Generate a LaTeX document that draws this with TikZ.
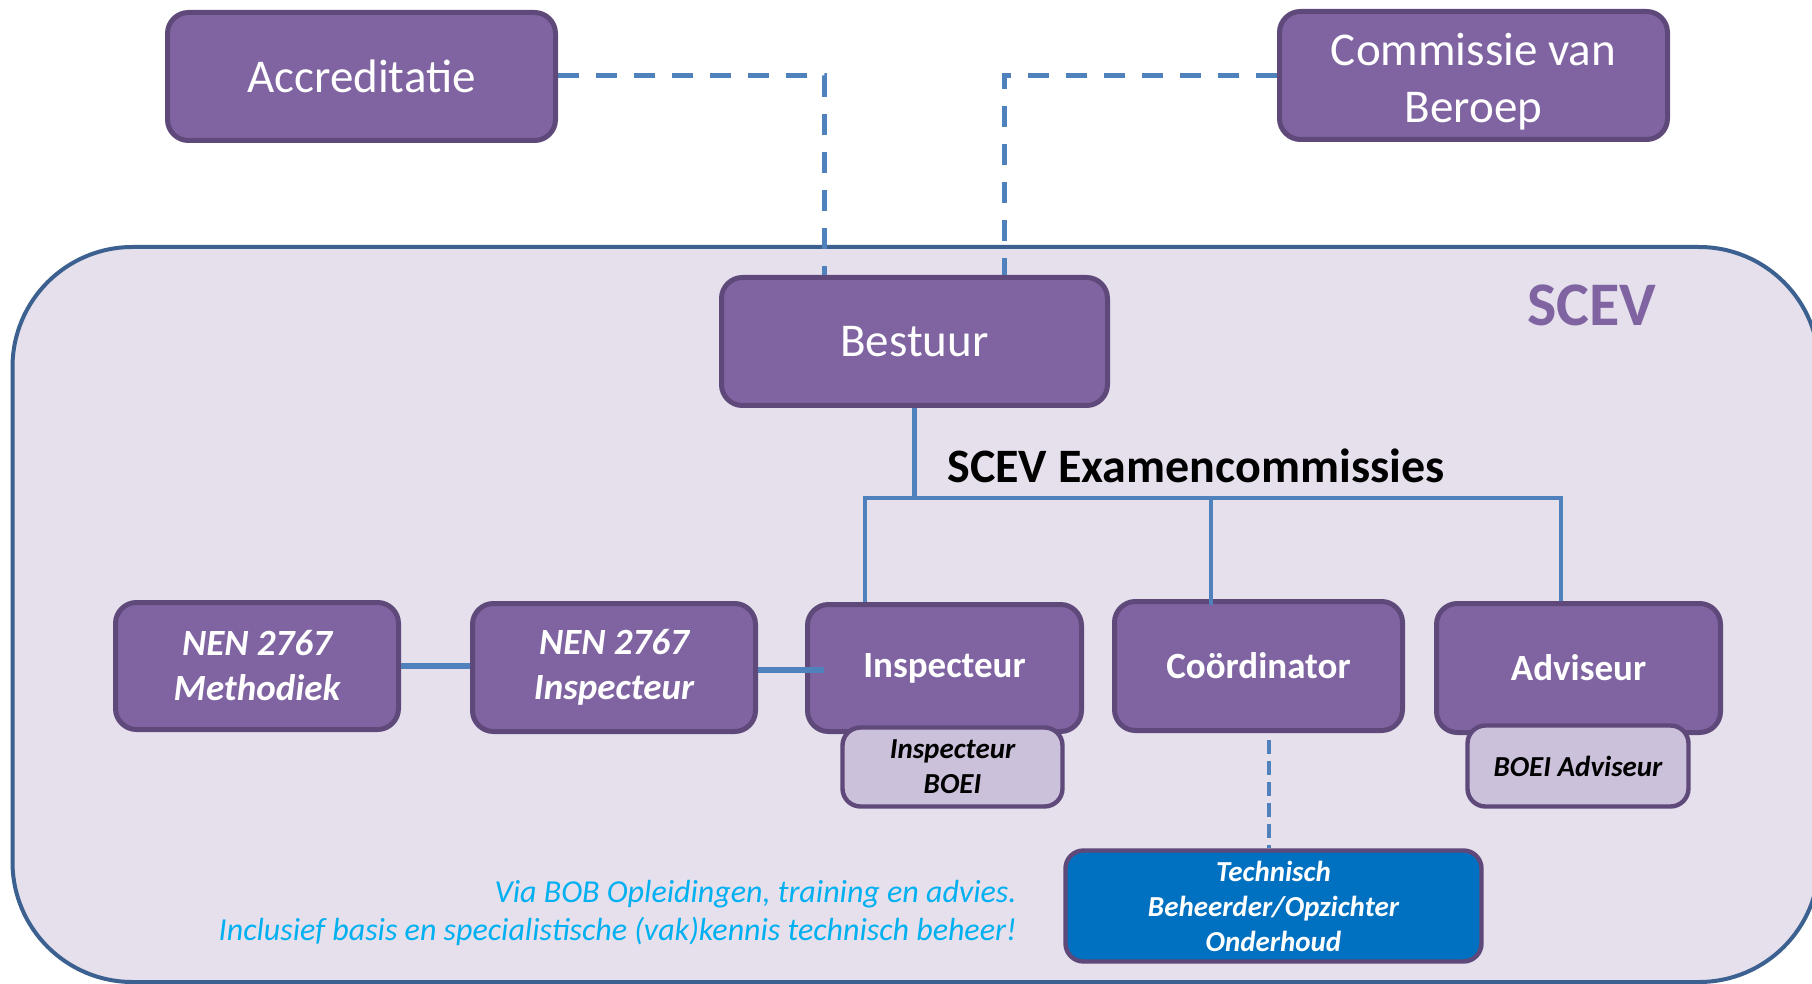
\documentclass[tikz,border=0pt]{standalone}
\usepackage{fontspec}
\setmainfont{Carlito}
\usetikzlibrary{calc}
\definecolor{boxfill}{HTML}{8064A2}
\definecolor{boxline}{HTML}{5F497A}
\definecolor{subfill}{HTML}{CCC1DA}
\definecolor{bgfill}{HTML}{E5E0EC}
\definecolor{bgline}{HTML}{3C6090}
\definecolor{linkblue}{HTML}{4F81BD}
\definecolor{techfill}{HTML}{0070C0}
\definecolor{cyantext}{HTML}{00B0F0}
\begin{document}
\begin{tikzpicture}[x=0.5pt,y=-0.5pt,
  box/.style={draw=boxline, fill=boxfill, line width=2.5pt, rounded corners=10.5pt,
    text=white, align=center, inner sep=0pt},
  bigtxt/.style={font=\fontsize{23.5}{28.5}\selectfont},
  midtxt/.style={font=\fontsize{18.5}{22.5}\selectfont\bfseries},
  miditxt/.style={font=\fontsize{18.5}{22.5}\selectfont\bfseries\itshape},
  subbox/.style={box, fill=subfill, text=black, line width=2.2pt, rounded corners=9pt,
    font=\fontsize{14.5}{17.5}\selectfont\bfseries\itshape},
  techbox/.style={box, fill=techfill, text=white, line width=2.2pt, rounded corners=9pt,
    font=\fontsize{14.5}{17.5}\selectfont\bfseries\itshape},
  dashlink/.style={draw=linkblue, line width=2.5pt, dash pattern=on 10.5pt off 8.5pt},
  shortdash/.style={draw=linkblue, line width=2pt, dash pattern=on 7pt off 3.5pt},
  tree/.style={draw=linkblue, line width=2.2pt},
  link/.style={draw=linkblue, line width=2.8pt}
]
\useasboundingbox (0,0) rectangle (1812,984);
\clip (0,0) rectangle (1812,984);

% SCEV container
\draw[fill=bgfill, draw=bgline, line width=2pt, rounded corners=60pt]
  (12.5,247) rectangle (1819,982);
\node[text=boxfill, font=\fontsize{31}{37}\selectfont\bfseries] (scev) at (1592,305) {SCEV};

% top boxes
\node[box, bigtxt, minimum width=194pt, minimum height=64pt] (acc) at (361.5,76.5) {Accreditatie};
\node[box, bigtxt, minimum width=194pt, minimum height=64pt] (cvb) at (1473.5,75.5) {\rule{0pt}{22.5pt}Commissie van\\Beroep};
\node[box, bigtxt, minimum width=193pt, minimum height=64pt] (bestuur) at (914.5,341.5) {Bestuur};

% dashed links to Bestuur
\draw[dashlink] (acc.east |- 0,76) -| ($(bestuur.north)+(-90.5,0)$);
\draw[dashlink] (cvb.west) -| ($(bestuur.north)+(89.5,0)$);

\node[font=\fontsize{24}{29}\selectfont\bfseries] (exam) at (1196,466) {SCEV Examencommissies};

% row boxes
\node[box, miditxt, minimum width=141.5pt, minimum height=63.5pt] (meth) at (257,666) {NEN 2767\\Methodiek};
\node[box, miditxt, minimum width=141.5pt, minimum height=64pt] (neninsp) at (614,667.5) {NEN 2767\\Inspecteur};
\node[box, midtxt, minimum width=137pt, minimum height=63.5pt] (insp) at (944.5,668) {Inspecteur};
\node[box, midtxt, minimum width=144pt, minimum height=64.5pt] (coord) at (1258.5,666) {Coördinator};
\node[box, midtxt, minimum width=142pt, minimum height=64.5pt] (adv) at (1578.5,668) {Adviseur};

\node[subbox, minimum width=110pt, minimum height=39.5pt] (inspboei) at (952.5,767) {Inspecteur\\BOEI};
\node[subbox, minimum width=110.5pt, minimum height=40.5pt] (boeiadv) at (1578,766) {BOEI Adviseur};
\node[techbox, minimum width=208pt, minimum height=55.5pt] (tech) at (1273.5,906) {Technisch\\Beheerder/Opzichter\\Onderhoud};

% tree
\coordinate (jL) at (865,498);
\coordinate (jC) at (1211,498);
\coordinate (jR) at (1561,498);
\draw[tree] (bestuur.south) -- (bestuur.south |- jL);
\draw[tree] (insp.north -| jL) |- (jR) -- (jR |- adv.north);
\draw[tree] (jC) -- ($(coord.north -| jC)+(0,6)$);

% horizontal links
\coordinate (ie) at (824,670);
\draw[link] (meth.east) -- (neninsp.west |- meth.east);
\draw[link] (neninsp.east |- ie) -- (ie);

% dashed to technisch
\coordinate (cd) at (1269,740);
\draw[shortdash] (cd) -- (tech.north -| cd);

% note
\node[anchor=east, align=right, inner sep=0pt, text=cyantext, font=\fontsize{16}{19}\selectfont\itshape] (note) at (1017,913)
  {Via BOB Opleidingen, training en advies.\\Inclusief basis en specialistische (vak)kennis technisch beheer!};
\end{tikzpicture}
\end{document}
